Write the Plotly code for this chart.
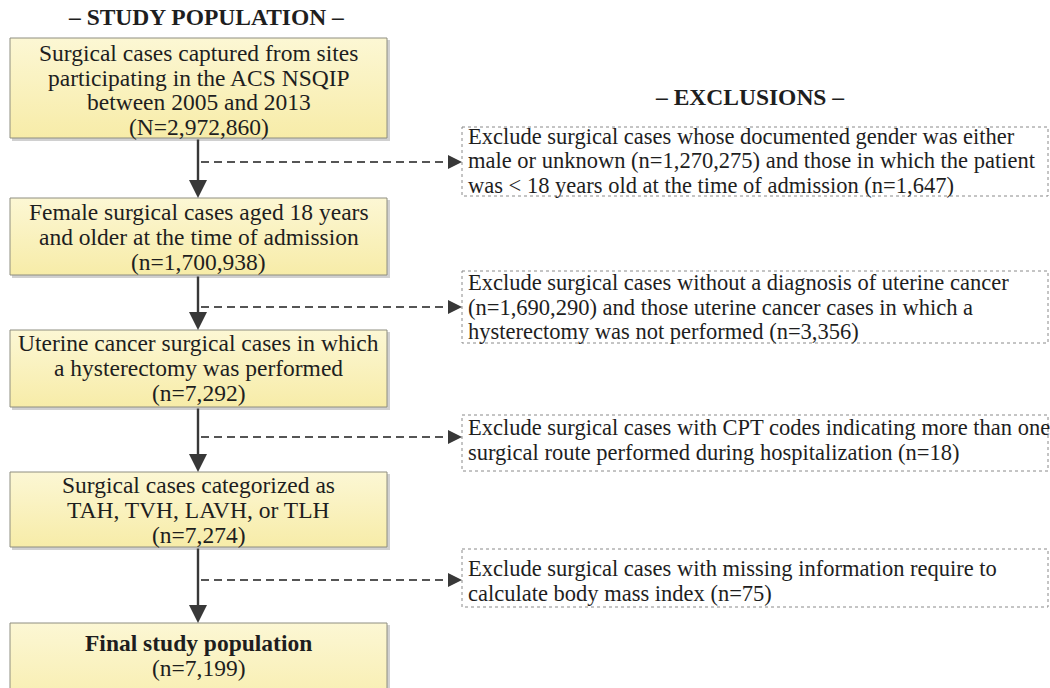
import plotly.graph_objects as go

# ---- data (text content of the flowchart) ----
header_left = "– STUDY POPULATION –"
header_right = "– EXCLUSIONS –"

step_labels = [
    "Surgical cases captured from sites<br>participating in the ACS NSQIP<br>between 2005 and 2013",
    "Female surgical cases aged 18 years<br>and older at the time of admission",
    "Uterine cancer surgical cases in which<br>a hysterectomy was performed",
    "Surgical cases categorized as<br>TAH, TVH, LAVH, or TLH",
    "<b>Final study population</b>",
]
step_counts = ["N=2,972,860", "n=1,700,938", "n=7,292", "n=7,274", "n=7,199"]

exclusion_texts = [
    "Exclude surgical cases whose documented gender was either<br>male or unknown (n=1,270,275) and those in which the patient<br>was &lt; 18 years old at the time of admission (n=1,647)",
    "Exclude surgical cases without a diagnosis of uterine cancer<br>(n=1,690,290) and those uterine cancer cases in which a<br>hysterectomy was not performed (n=3,356)",
    "Exclude surgical cases with CPT codes indicating more than one<br>surgical route performed during hospitalization (n=18)",
    "Exclude surgical cases with missing information require to<br>calculate body mass index (n=75)",
]

# ---- layout geometry (pixel coordinates, y grows downward) ----
W, H = 1050, 688
box_x0, box_x1 = 10, 387
step_boxes = [(38, 138), (198, 275), (330, 407), (472, 547), (623, 720)]
step_text_y = [90, 237, 368, 510, 655.5]
spine_x = 198
ex_x0, ex_x1 = 462, 1048
ex_boxes = [(127, 196), (271, 343), (415, 471), (549, 607)]
ex_arrow_y = [162, 307, 437, 580]
ex_text_y = [160.5, 307, 440, 581]
main_size, ex_size, head_size = 23.5, 22.5, 23.5
main_lh, ex_lh = 24.8, 24.5

FONT = "Liberation Serif"
TXT = "#1E1E1E"
fig = go.Figure()


def add_lines(lines, x, yc, lh, size, xanchor):
    n = len(lines)
    for k, ln in enumerate(lines):
        fig.add_annotation(x=x, y=yc + (k - (n - 1) / 2) * lh, text=ln,
                           showarrow=False, xanchor=xanchor, yanchor="middle",
                           font=dict(family=FONT, size=size, color=TXT))


# main boxes with shadow and vertical gradient
for (y0, y1) in step_boxes:
    fig.add_shape(type="rect", x0=box_x0 + 2, x1=box_x1 + 3, y0=y0 + 2, y1=y1 + 3,
                  line=dict(width=0), fillcolor="rgba(120,120,120,0.35)", layer="below")
    fig.add_trace(go.Scatter(
        x=[box_x0, box_x1, box_x1, box_x0, box_x0],
        y=[y0, y0, y1, y1, y0],
        mode="lines", fill="toself",
        fillgradient=dict(type="vertical",
                          colorscale=[[0, "#F7ECA8"], [1, "#FCF7D4"]]),
        line=dict(color="#8E8E80", width=1),
        hoverinfo="skip", showlegend=False))

for lbl, cnt, ty in zip(step_labels, step_counts, step_text_y):
    add_lines(lbl.split("<br>") + [f"({cnt})"], (box_x0 + box_x1) / 2, ty,
              main_lh, main_size, "center")

# solid downward arrows between main boxes
for i in range(len(step_boxes) - 1):
    fig.add_annotation(x=spine_x, y=step_boxes[i + 1][0], ax=spine_x, ay=step_boxes[i][1],
                       xref="x", yref="y", axref="x", ayref="y", text="",
                       showarrow=True, arrowhead=2, arrowsize=1.5, arrowwidth=2.4,
                       arrowcolor="#383838", standoff=0)

# exclusion boxes (dotted border)
for (y0, y1) in ex_boxes:
    fig.add_shape(type="rect", x0=ex_x0, x1=ex_x1, y0=y0, y1=y1,
                  line=dict(color="#8A8A8A", width=1, dash="dot"), fillcolor="white")

for txt, ay, ty in zip(exclusion_texts, ex_arrow_y, ex_text_y):
    add_lines(txt.split("<br>"), ex_x0 + 4, ty, ex_lh, ex_size, "left")
    # dashed connector
    fig.add_shape(type="line", x0=spine_x + 3, x1=ex_x0 - 10, y0=ay, y1=ay,
                  line=dict(color="#555555", width=1.8, dash="8px,5px"))
    fig.add_annotation(x=ex_x0, y=ay, ax=ex_x0 - 12, ay=ay,
                       xref="x", yref="y", axref="x", ayref="y", text="",
                       showarrow=True, arrowhead=2, arrowsize=1.4, arrowwidth=2,
                       arrowcolor="#383838", standoff=0)

# headers
fig.add_annotation(x=206, y=17, text=f"<b>{header_left}</b>", showarrow=False,
                   xanchor="center", yanchor="middle",
                   font=dict(family=FONT, size=head_size, color=TXT))
fig.add_annotation(x=749, y=97, text=f"<b>{header_right}</b>", showarrow=False,
                   xanchor="center", yanchor="middle",
                   font=dict(family=FONT, size=head_size, color=TXT))

fig.update_xaxes(range=[0, W], visible=False, fixedrange=True)
fig.update_yaxes(range=[H, 0], visible=False, fixedrange=True)
fig.update_layout(width=W, height=H, autosize=False,
                  margin=dict(l=0, r=0, t=0, b=0),
                  plot_bgcolor="white", paper_bgcolor="white", showlegend=False)

fig.write_html("out.html", config={"displayModeBar": False},
               post_script="document.body.style.margin='0';")
